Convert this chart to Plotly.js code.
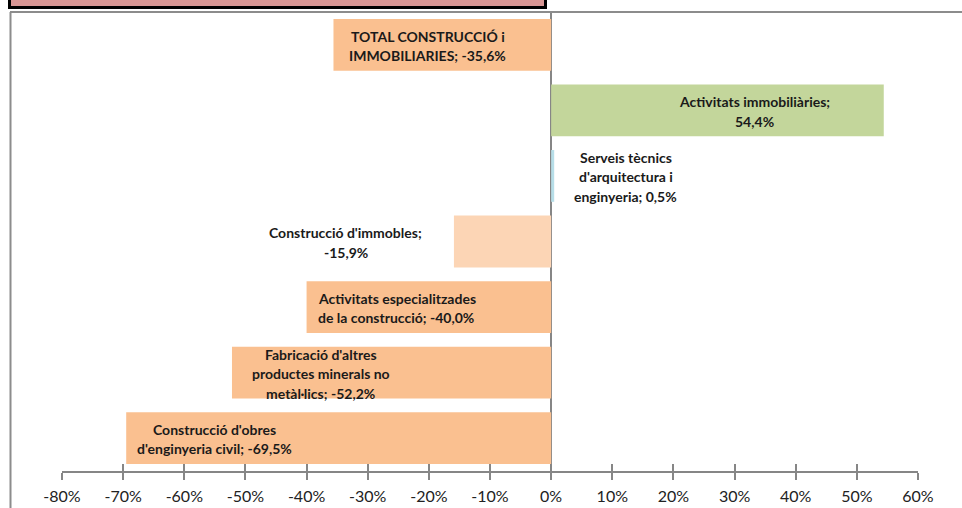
<!DOCTYPE html>
<html>
<head>
<meta charset="utf-8">
<script src="https://cdn.plot.ly/plotly-3.0.1.min.js"></script>
<style>
  html, body { margin: 0; padding: 0; background: #fff; }
  #chart { width: 962px; height: 508px; }
</style>
</head>
<body>
<div id="chart"></div>
<script>
// Categories, top to bottom
const categories = [
    'TOTAL CONSTRUCCIÓ i IMMOBILIARIES',
    'Activitats immobiliàries',
    'Serveis tècnics d\'arquitectura i enginyeria',
    'Construcció d\'immobles',
    'Activitats especialitzades de la construcció',
    'Fabricació d\'altres productes minerals no metàl·lics',
    'Construcció d\'obres d\'enginyeria civil'
];
// % change
const values = [-35.6, 54.4, 0.5, -15.9, -40.0, -52.2, -69.5];
const barColors = ['#FAC090', '#C3D69B', '#B7DEE8', '#FCD5B5', '#FAC090', '#FAC090', '#FAC090'];

const tickVals = [-80, -70, -60, -50, -40, -30, -20, -10, 0, 10, 20, 30, 40, 50, 60];

// where the Excel data labels sit (x anchor in axis units) and how they wrap
const labelX = [-20.2, 33.3, 12.2, -33.6, -38.4, -37.7, -55.0];
const labelAnchor = ['center', 'center', 'center', 'center', 'left', 'center', 'center'];
const wrapWidth = [21, 25, 16, 23, 26, 21, 26];

const W = 962, H = 508;
const margin = { l: 62, r: 44, t: 12, b: 37 };
const px2paperX = px => (px - margin.l) / (W - margin.l - margin.r);
const px2paperY = py => (H - margin.b - py) / (H - margin.t - margin.b);

function fmtPct(v) {
    return v.toFixed(1).replace('.', ',') + '%';
}

function wrap(text, width) {
    const words = text.split(' ');
    const lines = [];
    let cur = '';
    words.forEach(w => {
        if (cur === '') cur = w;
        else if ((cur + ' ' + w).length <= width) cur += ' ' + w;
        else { lines.push(cur); cur = w; }
    });
    if (cur) lines.push(cur);
    return lines;
}

const gray = '#868686';
const lineGap = 19.5;

const annotations = [];
categories.forEach((cat, i) => {
    const lines = wrap(cat + '; ' + fmtPct(values[i]), wrapWidth[i]);
    lines.forEach((ln, j) => {
        annotations.push({
            x: labelX[i],
            y: cat,
            xref: 'x',
            yref: 'y',
            text: ln,
            showarrow: false,
            xanchor: labelAnchor[i],
            yanchor: 'middle',
            yshift: ((lines.length - 1) / 2 - j) * lineGap - 1,
            font: { family: 'Lato, "Open Sans", sans-serif', size: 14, color: '#1a1a1a', weight: 'bold' }
        });
    });
});

const trace = {
    type: 'bar',
    orientation: 'h',
    x: values,
    y: categories,
    marker: { color: barColors, line: { width: 0 } },
    hoverinfo: 'x+y'
};

// empty trace so the overlay axis with inward ticks is drawn
const tickTrace = {
    type: 'scatter',
    x: [],
    y: [],
    xaxis: 'x2',
    yaxis: 'y',
    showlegend: false,
    hoverinfo: 'skip'
};

const layout = {
    width: W,
    height: H,
    margin: margin,
    paper_bgcolor: '#fff',
    plot_bgcolor: '#fff',
    showlegend: false,
    bargap: 0.21,
    xaxis: {
        range: [-80, 60],
        tickvals: tickVals,
        ticktext: tickVals.map(v => v + '%'),
        ticks: 'outside',
        ticklen: 7,
        tickwidth: 2,
        tickcolor: gray,
        ticklabelstandoff: 3,
        showline: true,
        linecolor: gray,
        linewidth: 2,
        showgrid: false,
        zeroline: true,
        zerolinecolor: gray,
        zerolinewidth: 2,
        tickfont: { family: 'Lato, "Open Sans", sans-serif', size: 16, color: '#222' },
        fixedrange: true
    },
    xaxis2: {
        overlaying: 'x',
        matches: 'x',
        anchor: 'y',
        side: 'bottom',
        tickvals: tickVals,
        ticks: 'inside',
        ticklen: 7,
        tickwidth: 2,
        tickcolor: gray,
        showticklabels: false,
        showgrid: false,
        zeroline: false,
        showline: false
    },
    yaxis: {
        autorange: 'reversed',
        showticklabels: false,
        ticks: '',
        showgrid: false,
        zeroline: false,
        showline: false,
        fixedrange: true
    },
    annotations: annotations,
    shapes: [
        // remains of the title box above the chart
        {
            type: 'rect', xref: 'paper', yref: 'paper',
            x0: px2paperX(9.5), x1: px2paperX(545.5),
            y0: px2paperY(7.5), y1: px2paperY(-6),
            fillcolor: '#D99694',
            line: { color: '#000', width: 3 }
        },
        // chart area border (left and top)
        {
            type: 'line', xref: 'paper', yref: 'paper',
            x0: px2paperX(10.5), x1: px2paperX(10.5),
            y0: px2paperY(12), y1: px2paperY(510),
            line: { color: '#8C8C8C', width: 2 }
        },
        {
            type: 'line', xref: 'paper', yref: 'paper',
            x0: px2paperX(10), x1: px2paperX(965),
            y0: px2paperY(12), y1: px2paperY(12),
            line: { color: '#8C8C8C', width: 2 }
        }
    ]
};

Plotly.newPlot('chart', [trace, tickTrace], layout, { displayModeBar: false, staticPlot: true });
</script>
</body>
</html>
